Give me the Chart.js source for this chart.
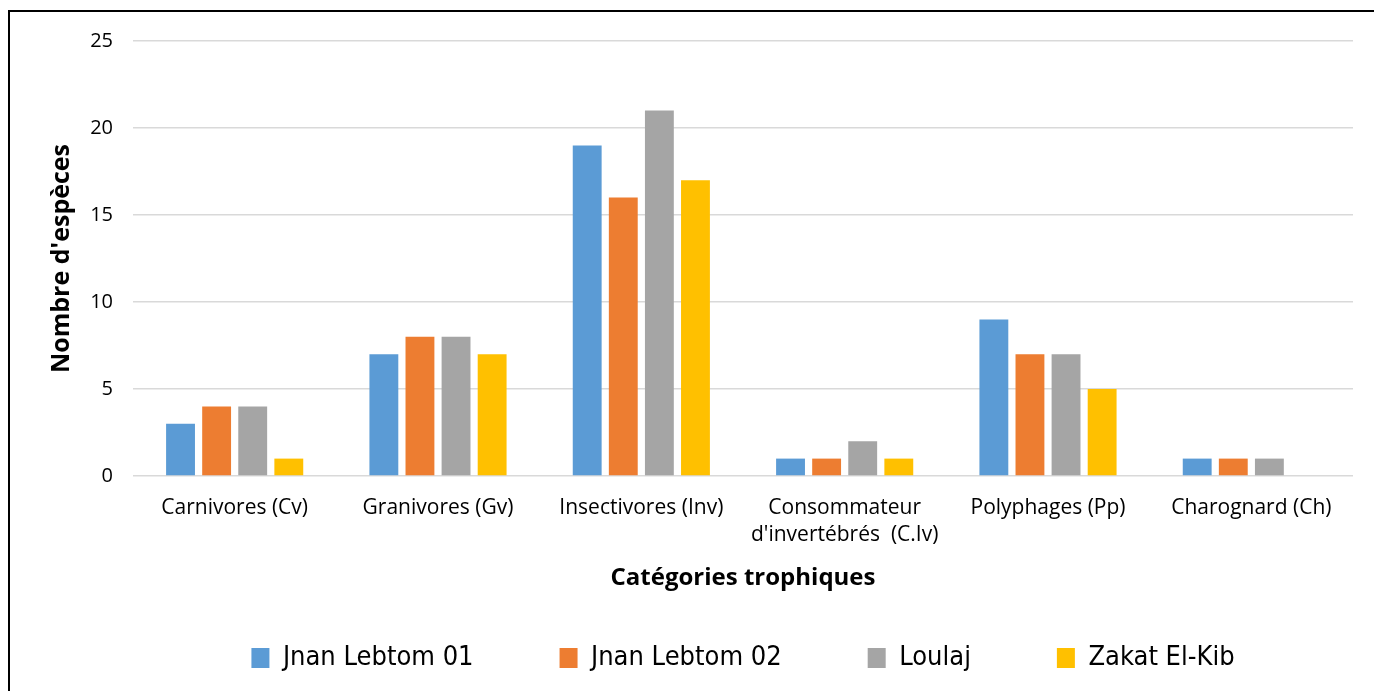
<!DOCTYPE html>
<html>
<head>
<meta charset="utf-8">
<script src="https://cdn.jsdelivr.net/npm/chart.js@4/dist/chart.umd.min.js"></script>
<style>
html,body{margin:0;padding:0;background:#fff;}
#wrap{width:1374px;height:691px;position:relative;}
</style>
</head>
<body>
<div id="wrap"><canvas id="c" width="1374" height="691"></canvas></div>
<script>
const categories = ["Carnivores (Cv)", "Granivores (Gv)", "Insectivores (Inv)", ["Consommateur", "d'invertébrés  (C.Iv)"], "Polyphages (Pp)", "Charognard (Ch)"];
const seriesNames = ["Jnan Lebtom 01", "Jnan Lebtom 02", "Loulaj", "Zakat El-Kib"];
const jnan01 = [3, 7, 19, 1, 9, 1];
const jnan02 = [4, 8, 16, 1, 7, 1];
const loulaj = [4, 8, 21, 2, 7, 1];
const zakat = [1, 7, 17, 1, 5, 0];
const yTicks = [0, 5, 10, 15, 20, 25];
const colors = ["#5B9BD5", "#ED7D31", "#A5A5A5", "#FFC000"];

const borderPlugin = {
  id: 'frame',
  afterDraw(chart) {
    const ctx = chart.ctx;
    ctx.save();
    ctx.strokeStyle = '#000';
    ctx.lineWidth = 2;
    ctx.strokeRect(9, 11, 1400, 700);
    ctx.restore();
  }
};

const font = "'Open Sans', 'DejaVu Sans', sans-serif";
const LEG_PAD = 86;
const LEG_TOP = 658 - 13.5 - LEG_PAD;

new Chart(document.getElementById('c'), {
  type: 'bar',
  data: {
    labels: categories,
    datasets: [jnan01, jnan02, loulaj, zakat].map((d, i) => ({
      label: seriesNames[i],
      data: d,
      backgroundColor: colors[i],
      borderWidth: 0,
      categoryPercentage: 0.71,
      barPercentage: 0.8
    }))
  },
  options: {
    responsive: false,
    animation: false,
    layout: { padding: { left: 0, right: 21, top: 41, bottom: 9.5 } },
    plugins: {
      legend: {
        position: 'bottom',
        fullSize: false,
        labels: {
          color: '#000',
          font: { family: "'DejaVu Sans Condensed', 'Liberation Sans Narrow', 'Liberation Sans', sans-serif", size: 27 },
          boxWidth: 18,
          boxHeight: 20,
          padding: LEG_PAD
        }
      },
      tooltip: { enabled: false }
    },
    scales: {
      x: {
        grid: { display: false, drawTicks: false },
        border: { display: false },
        ticks: { color: '#000', font: { family: font, size: 21, lineHeight: 1.29 }, padding: 18.5, maxRotation: 0, autoSkip: false },
        title: { display: true, text: 'Catégories trophiques', color: '#000', font: { family: font, size: 24, weight: 'bold' }, padding: { top: 0, bottom: LEG_TOP - 14.4 - 578 } },
        afterFit(s) { s.height = LEG_TOP - 476; }
      },
      y: {
        min: 0, max: 25,
        afterBuildTicks(s) { s.ticks = yTicks.map(v => ({ value: v })); },
        grid: { color: '#d9d9d9', lineWidth: 1.5, drawTicks: false },
        border: { display: false },
        ticks: { color: '#000', font: { family: font, size: 20 }, padding: 20 },
        title: { display: true, text: "Nombre d'espèces", color: '#000', font: { family: font, size: 25, weight: 'bold' }, padding: { top: 47, bottom: 0 } },
        afterFit(s) { s.width = 133; }
      }
    }
  },
  plugins: [borderPlugin]
});
</script>
</body>
</html>
